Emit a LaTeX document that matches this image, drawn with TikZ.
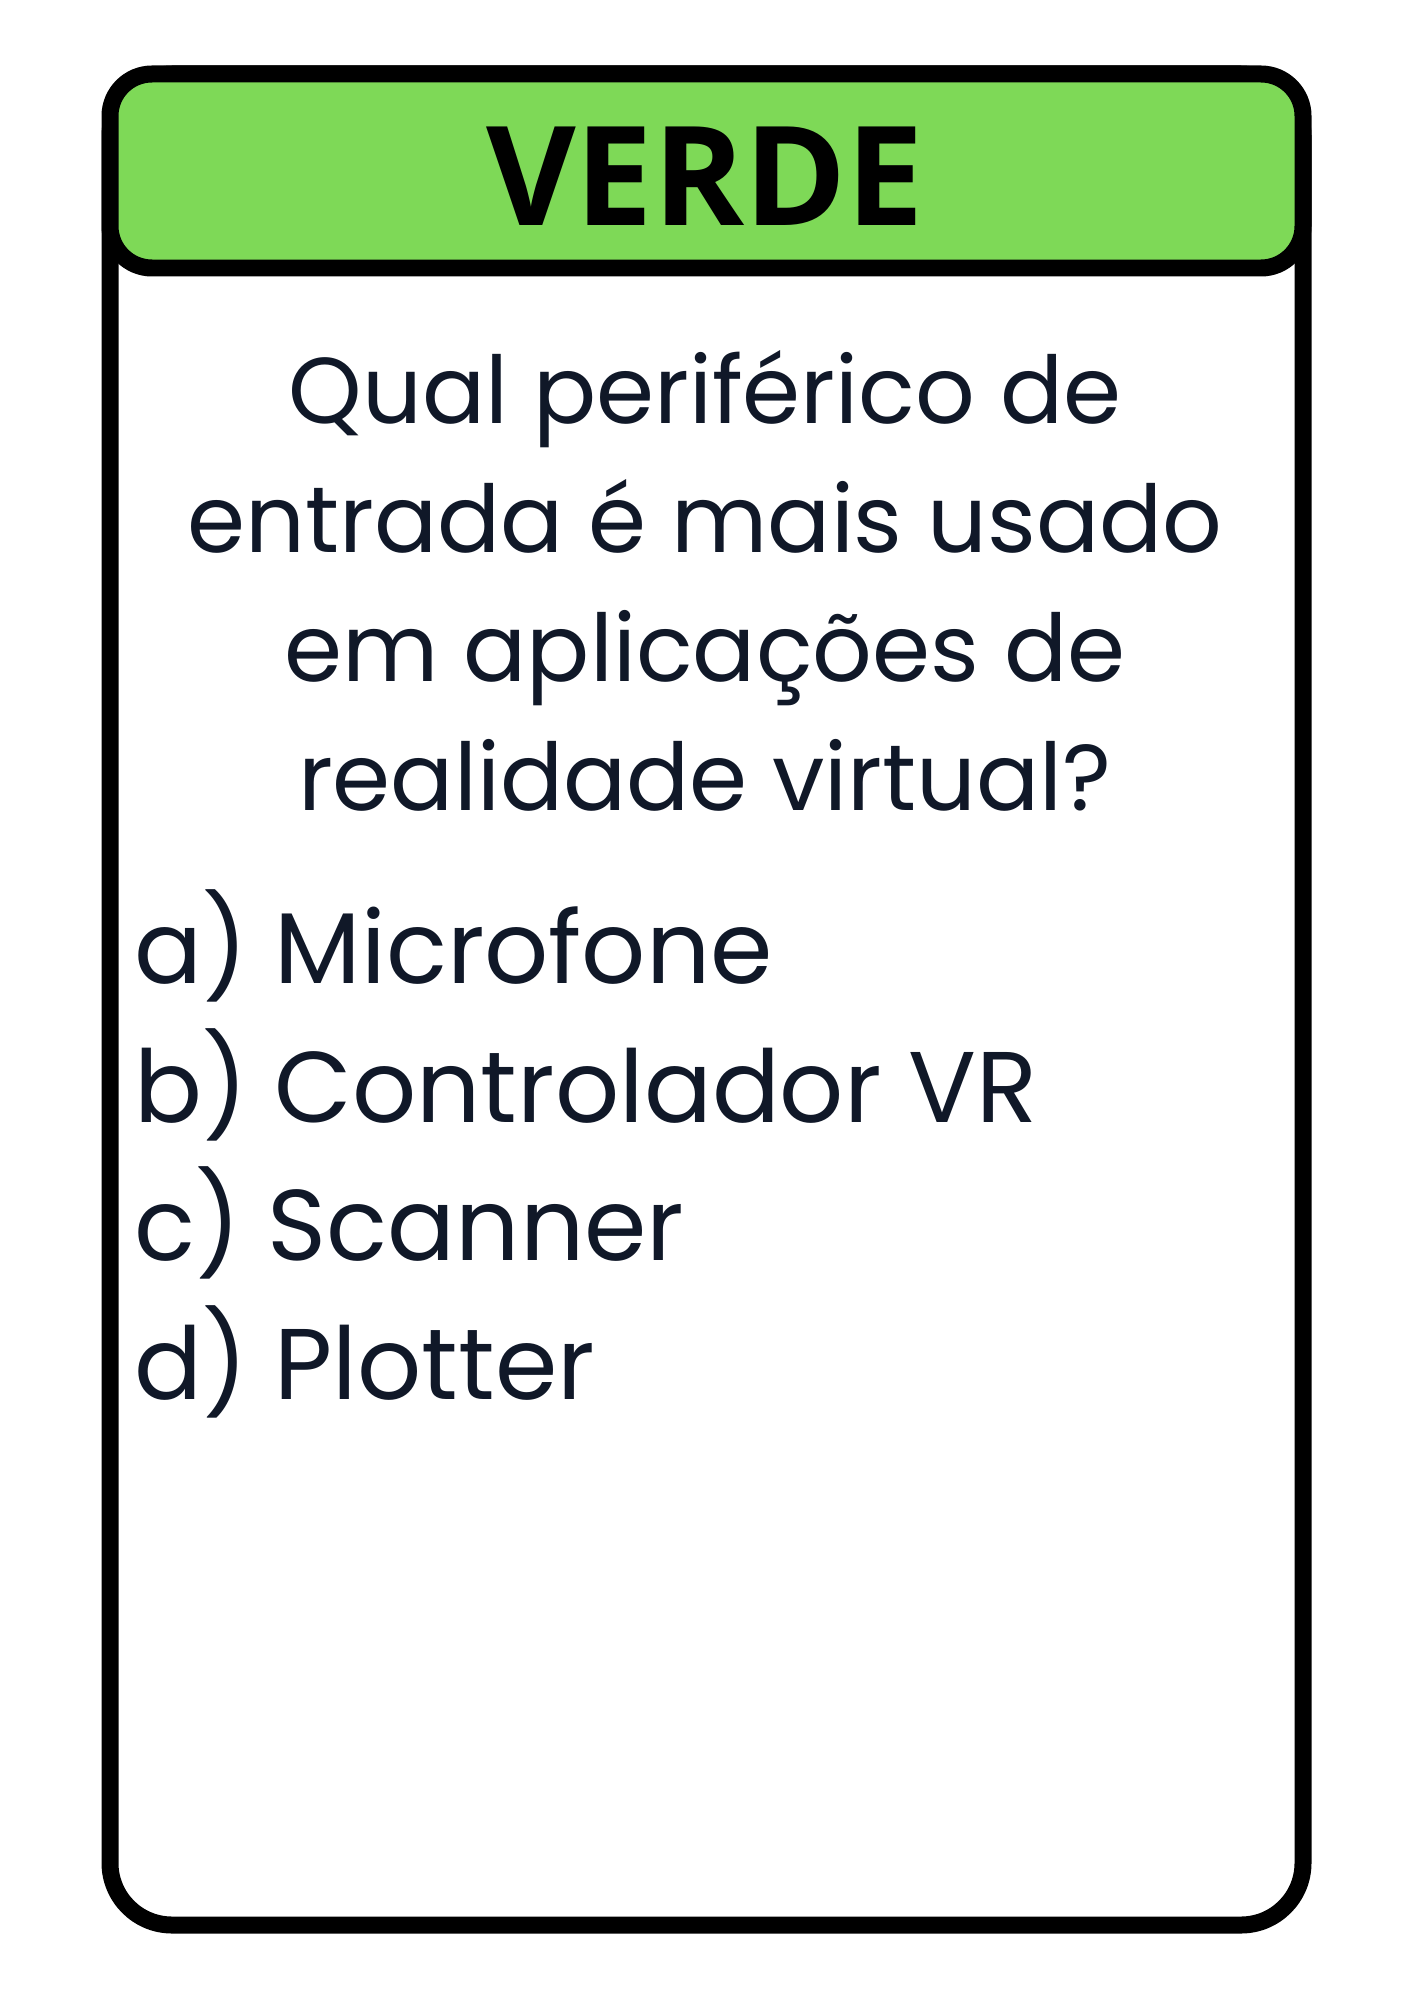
\documentclass[tikz,border=0pt]{standalone}
\usepackage{fontspec}
\setmainfont{Poppins}
\newfontfamily\titlefont{Open Sans}
\usetikzlibrary{positioning}
\definecolor{cardgreen}{HTML}{7ED957}
\definecolor{inkblue}{HTML}{101828}
\tikzstyle{card} = [draw=black, line width=0.34cm, rounded corners=1.24cm]
\tikzstyle{header} = [draw=black, fill=cardgreen, line width=0.34cm, rounded corners=0.84cm]
\tikzstyle{title} = [font=\titlefont\bfseries\fontsize{78.6}{78.6}\selectfont, text=black, inner sep=0pt, anchor=base]
\tikzstyle{question} = [font=\fontsize{53.2}{73.4}\selectfont, text=inkblue, align=center, inner sep=0pt, anchor=north]
\tikzstyle{answers} = [font=\fontsize{57.2}{79}\selectfont, text=inkblue, align=left, inner sep=0pt, anchor=north west]

\begin{document}
\begin{tikzpicture}[x=0.02cm, y=-0.02cm]
\useasboundingbox (0,0) rectangle (1414,2000);

% Card and header
\draw [card] (110,74) rectangle (1303,1925);
\draw [header] (110,74) rectangle (1303,268);
\node (title) [title] at (705,226) {VERDE};

% Question and answers
\node (question) [question] at (705,350) {Qual periférico de\\entrada é mais usado\\em aplicações de\\realidade virtual?};
\node (answers) [answers] at (134,889) {a) Microfone\\b) Controlador VR\\c) Scanner\\d) Plotter};

\end{tikzpicture}
\end{document}
